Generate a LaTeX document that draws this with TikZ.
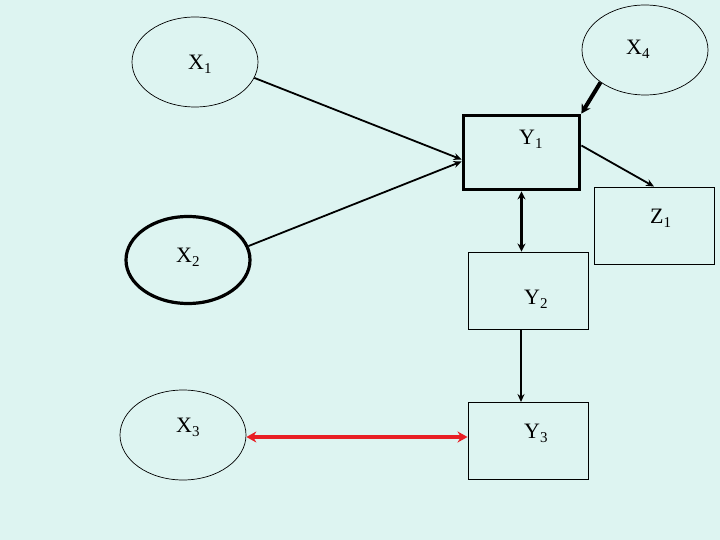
\documentclass[tikz,border=0pt]{standalone}
\usepackage{fontspec}
\setmainfont{Liberation Serif}
\usetikzlibrary{shapes.geometric,arrows.meta,calc}
\definecolor{bgc}{RGB}{221,244,241}
\definecolor{redarr}{RGB}{232,30,36}
\tikzset{
  ell/.style={ellipse,draw,inner sep=0pt,line width=0.7pt,minimum width=126pt,minimum height=90pt},
  boxn/.style={rectangle,draw,inner sep=0pt,line width=0.9pt,minimum width=120pt,minimum height=77pt},
  lab/.style={anchor=base west,inner sep=0pt,font=\fontsize{22}{24}\selectfont},
  conn/.style={line width=1.8pt,-{Stealth[length=8pt,width=7pt]}},
}
\newcommand{\lb}[2]{#1\raisebox{-4pt}{\fontsize{15}{15}\selectfont #2}}
\begin{document}
\begin{tikzpicture}[x=1pt,y=-1pt]
\fill[bgc] (0,0) rectangle (720,540);
\useasboundingbox (0,0) rectangle (720,540);
% shapes
\node[ell] (X1) at (195,62) {};
\node[ell] (X4) at (645,50) {};
\node[ell,line width=3.2pt,minimum width=124pt,minimum height=87pt] (X2) at (188,260) {};
\node[ell] (X3) at (183,435) {};
\node[boxn,line width=3.8pt,minimum width=116pt,minimum height=74pt] (Y1) at (521.5,152.5) {};
\node[boxn] (Z1) at (654,225.5) {};
\node[boxn] (Y2) at (528,290.5) {};
\node[boxn] (Y3) at (528,441) {};
% labels
\node[lab] (lX1) at (188,70) {\lb{X}{1}};
\node[lab] (lX4) at (626,55) {\lb{X}{4}};
\node[lab] (lX2) at (176,262) {\lb{X}{2}};
\node[lab] (lX3) at (176,432) {\lb{X}{3}};
\node[lab] (lY1) at (519,145) {\lb{Y}{1}};
\node[lab] (lZ1) at (650,223) {\lb{Z}{1}};
\node[lab] (lY2) at (524,304) {\lb{Y}{2}};
\node[lab] (lY3) at (524,438) {\lb{Y}{3}};
% connectors
\draw[conn] (X1.-15) -- ($(Y1.west)+(0,7)$);
\draw[conn] (X2.13) -- ($(Y1.west)+(0,9)$);
\draw[line width=4pt,-{Stealth[length=9pt,width=10pt]}] (X4.216) -- (Y1.north east);
\draw[conn] ($(Y1.east)+(0,-7)$) -- (Z1.north);
\draw[line width=2.8pt,{Stealth[length=8pt,width=8pt]}-{Stealth[length=8pt,width=8pt]}] (Y1.south) -- (Y1.south |- Y2.north);
\draw[conn] ($(Y2.south)+(-7,0)$) -- ($(Y3.north)+(-7,0)$);
\coordinate (r1) at ($(X3.east)+(0,2)$);
\draw[redarr,line width=4pt,{Stealth[length=10pt,width=11pt]}-{Stealth[length=10pt,width=11pt]}] (r1) -- (r1 -| Y3.west);
\end{tikzpicture}
\end{document}
